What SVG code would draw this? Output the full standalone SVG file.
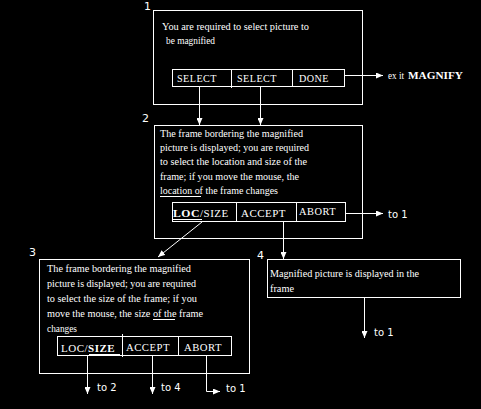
<svg xmlns="http://www.w3.org/2000/svg" width="481" height="409" viewBox="0 0 481 409">
<defs>
<marker id="ah" markerWidth="7" markerHeight="6" refX="7" refY="3" orient="auto" markerUnits="userSpaceOnUse">
<path d="M0,0 L7,3 L0,6 z" fill="#fff"/>
</marker>
<style>
.box{fill:none;stroke:#fff;stroke-width:1}
.t{font-family:"Liberation Serif",serif;font-size:11px;fill:#fff}
.b{font-family:"Liberation Serif",serif;font-size:11px;fill:#fff;letter-spacing:0.5px}
.bb{font-weight:bold}
.n{font-family:"DejaVu Sans",sans-serif;font-size:11px;fill:#fff}
.s{font-family:"DejaVu Sans",sans-serif;font-size:10px;fill:#fff}
.c{fill:none;stroke:#fff;stroke-width:1;marker-end:url(#ah)}
.u{stroke:#fff;stroke-width:1}
</style>
</defs>
<rect width="481" height="409" fill="#000"/>

<g id="connectors">
<line class="c" x1="199.5" y1="87" x2="199.5" y2="125"/>
<line class="c" x1="260.5" y1="87" x2="260.5" y2="125"/>
<line class="c" x1="345" y1="75.5" x2="383" y2="75.5"/>
<line class="c" x1="346" y1="213.5" x2="383" y2="213.5"/>
<line class="c" x1="202" y1="222" x2="158" y2="257"/>
<line class="c" x1="283.5" y1="222" x2="283.5" y2="259"/>
<line class="c" x1="364.5" y1="298" x2="364.5" y2="338"/>
<line class="c" x1="87.5" y1="356" x2="87.5" y2="394"/>
<line class="c" x1="152.5" y1="356" x2="152.5" y2="394"/>
<polyline class="c" points="206.5,356 206.5,391.5 220,391.5"/>
</g>

<g id="node1">
<text class="n" x="144" y="10">1</text>
<rect class="box" x="153.5" y="10.5" width="209" height="94"/>
<text class="t" x="162" y="30" textLength="147" lengthAdjust="spacingAndGlyphs">You are required to select picture to</text>
<text class="t" x="166" y="44" textLength="49" lengthAdjust="spacingAndGlyphs">be magnified</text>
<rect class="box" x="172.5" y="69.5" width="172" height="17"/>
<line class="u" x1="231.5" y1="69" x2="231.5" y2="88"/>
<line class="u" x1="292.5" y1="69" x2="292.5" y2="87"/>
<text class="b" x="177" y="82" textLength="40" lengthAdjust="spacingAndGlyphs">SELECT</text>
<text class="b" x="237" y="82" textLength="40" lengthAdjust="spacingAndGlyphs">SELECT</text>
<text class="b" x="299" y="82" textLength="30" lengthAdjust="spacingAndGlyphs">DONE</text>
<text class="t" x="388" y="79" textLength="16" lengthAdjust="spacingAndGlyphs">ex it</text>
<text class="t bb" x="408" y="79" textLength="55" lengthAdjust="spacingAndGlyphs">MAGNIFY</text>
</g>

<g id="node2">
<text class="n" x="142" y="122">2</text>
<rect class="box" x="154.5" y="125.5" width="208" height="113"/>
<text class="t" x="160" y="137" textLength="143" lengthAdjust="spacingAndGlyphs">The frame bordering the magnified</text>
<text class="t" x="160" y="151" textLength="149" lengthAdjust="spacingAndGlyphs">picture is displayed; you are required</text>
<text class="t" x="160" y="165" textLength="147" lengthAdjust="spacingAndGlyphs">to select the location and size of the</text>
<text class="t" x="160" y="180" textLength="139" lengthAdjust="spacingAndGlyphs">frame; if you move the mouse, the</text>
<text class="t" x="160" y="194" textLength="118" lengthAdjust="spacingAndGlyphs">location of the frame changes</text>
<line class="u" x1="160" y1="196.5" x2="201" y2="196.5"/>
<rect class="box" x="172.5" y="202.5" width="173" height="19"/>
<line class="u" x1="236.5" y1="202" x2="236.5" y2="222"/>
<line class="u" x1="296.5" y1="202" x2="296.5" y2="222"/>
<text class="b" x="173" y="217"><tspan class="bb" textLength="27" lengthAdjust="spacingAndGlyphs">LOC</tspan><tspan>/SIZE</tspan></text>
<line class="u" x1="173" y1="219.5" x2="202" y2="219.5"/>
<text class="b" x="241" y="217" textLength="45" lengthAdjust="spacingAndGlyphs">ACCEPT</text>
<text class="b" x="299" y="215" textLength="37" lengthAdjust="spacingAndGlyphs">ABORT</text>
<text class="s" x="388" y="218">to 1</text>
</g>

<g id="node3">
<text class="n" x="29" y="256">3</text>
<rect class="box" x="39.5" y="259.5" width="210" height="114"/>
<text class="t" x="47" y="272" textLength="144" lengthAdjust="spacingAndGlyphs">The frame bordering the magnified</text>
<text class="t" x="47" y="287" textLength="149" lengthAdjust="spacingAndGlyphs">picture is displayed; you are required</text>
<text class="t" x="47" y="302" textLength="150" lengthAdjust="spacingAndGlyphs">to select the size of the frame; if you</text>
<text class="t" x="47" y="317" textLength="156" lengthAdjust="spacingAndGlyphs">move the mouse, the size of the frame</text>
<line class="u" x1="153" y1="319.5" x2="175" y2="319.5"/>
<text class="t" x="47" y="332" textLength="30" lengthAdjust="spacingAndGlyphs">changes</text>
<rect class="box" x="57.5" y="336.5" width="174" height="19"/>
<line class="u" x1="122.5" y1="334" x2="122.5" y2="357"/>
<line class="u" x1="178.5" y1="336" x2="178.5" y2="356"/>
<text class="b" x="61" y="352"><tspan>LOC/</tspan><tspan class="bb">SIZE</tspan></text>
<line class="u" x1="89" y1="354.5" x2="120" y2="354.5"/>
<text class="b" x="126" y="351" textLength="44" lengthAdjust="spacingAndGlyphs">ACCEPT</text>
<text class="b" x="184" y="351" textLength="38" lengthAdjust="spacingAndGlyphs">ABORT</text>
<text class="s" x="97" y="391">to 2</text>
<text class="s" x="161" y="391">to 4</text>
<text class="s" x="226" y="392">to 1</text>
</g>

<g id="node4">
<text class="n" x="257" y="259">4</text>
<rect class="box" x="267.5" y="259.5" width="193" height="38"/>
<text class="t" x="270" y="277" textLength="149" lengthAdjust="spacingAndGlyphs">Magnified picture is displayed in the</text>
<text class="t" x="270" y="292" textLength="24" lengthAdjust="spacingAndGlyphs">frame</text>
<text class="s" x="374" y="336">to 1</text>
</g>
</svg>
